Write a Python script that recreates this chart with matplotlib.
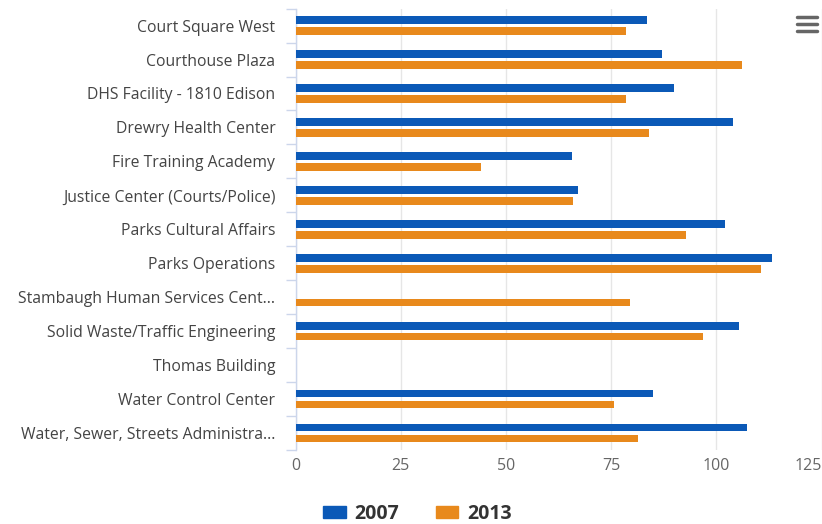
import matplotlib
matplotlib.use("Agg")
import matplotlib.pyplot as plt
from matplotlib.patches import Patch
from matplotlib.lines import Line2D
import numpy as np

categories = [
    "Court Square West",
    "Courthouse Plaza",
    "DHS Facility - 1810 Edison",
    "Drewry Health Center",
    "Fire Training Academy",
    "Justice Center (Courts/Police)",
    "Parks Cultural Affairs",
    "Parks Operations",
    "Stambaugh Human Services Cent...",
    "Solid Waste/Traffic Engineering",
    "Thomas Building",
    "Water Control Center",
    "Water, Sewer, Streets Administra...",
]
values_2007 = [83.6, 87.0, 90.0, 104.0, 65.6, 67.2, 102.0, 113.2, np.nan, 105.4, np.nan, 85.0, 107.4]
values_2013 = [78.6, 106.0, 78.6, 83.9, 44.2, 66.0, 92.7, 110.7, 79.5, 96.8, np.nan, 75.6, 81.3]
series_names = ["2007", "2013"]
x_ticks = [0, 25, 50, 75, 100, 125]

BLUE = "#0b59b7"
ORANGE = "#e8891c"

plt.rcParams['font.family'] = ['Open Sans', 'DejaVu Sans']

W, H = 822, 524
fig = plt.figure(figsize=(W/100, H/100), dpi=100)
left, right, top, bottom = 295.5, 821.5, 8.6, 450
ax = fig.add_axes([left/W, 1-bottom/H, (right-left)/W, (bottom-top)/H])

y = np.arange(len(categories))
h = 0.225
off = 0.16
ax.barh(y - off, values_2007, height=h, color=BLUE, zorder=3)
ax.barh(y + off, values_2013, height=h, color=ORANGE, zorder=3)

ax.set_ylim(len(categories) - 0.5, -0.5)
ax.set_xlim(0, 125)
ax.set_xticks(x_ticks)
ax.set_xticklabels([str(t) for t in x_ticks], color="#666666", fontsize=11.5)
ax.get_xticklabels()[-1].set_horizontalalignment('right')
ax.set_yticks(y)
ax.set_yticklabels(categories, color="#444444", fontsize=11.3)
ax.set_yticks(np.arange(len(categories) + 1) - 0.5, minor=True)
ax.tick_params(axis='y', which='major', length=0, pad=14.5)
ax.tick_params(axis='y', which='minor', length=7.5, color="#ccd6eb", width=1)
ax.tick_params(axis='x', length=0, pad=6)

ax.grid(axis='x', color="#e6e6e6", linewidth=1, zorder=0)
for s in ["top", "right", "bottom"]:
    ax.spines[s].set_visible(False)
ax.spines["left"].set_color("#ccd6eb")
ax.spines["left"].set_linewidth(1)

# hamburger menu icon
for yy in [17, 24, 31]:
    fig.add_artist(Line2D([797/W, 817/W], [1-yy/H, 1-yy/H], color="#666666", linewidth=2.5, solid_capstyle='round'))

handles = [Patch(facecolor=BLUE, edgecolor=BLUE), Patch(facecolor=ORANGE, edgecolor=ORANGE)]
leg = fig.legend(handles, series_names, loc="center", bbox_to_anchor=(0.508, 1-514/H), ncol=2,
                 frameon=False, handlelength=1.15, handleheight=0.62, handletextpad=0.45,
                 columnspacing=1.9, prop={'weight': 'bold', 'size': 14})
for t in leg.get_texts():
    t.set_color("#333333")

fig.savefig("out.png", dpi=100)
